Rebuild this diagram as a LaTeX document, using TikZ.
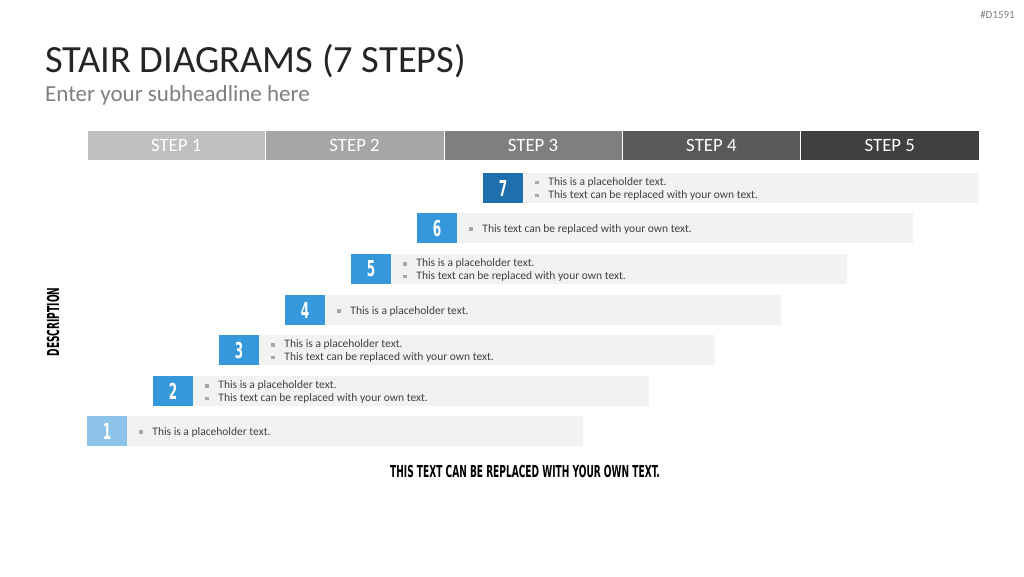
\documentclass[tikz,border=0pt]{standalone}
\usepackage{fontspec}
\setmainfont{Carlito}
\newfontfamily\condfont{DejaVu Sans Condensed}[FakeStretch=0.61]
\usetikzlibrary{positioning}

\definecolor{stepa}{HTML}{BFBFBF}
\definecolor{stepb}{HTML}{A6A6A6}
\definecolor{stepc}{HTML}{7F7F7F}
\definecolor{stepd}{HTML}{595959}
\definecolor{stepe}{HTML}{404040}
\definecolor{numlight}{HTML}{8DC3EB}
\definecolor{nummid}{HTML}{3498DB}
\definecolor{numdark}{HTML}{1F6FAD}
\definecolor{barfill}{HTML}{F2F2F2}
\definecolor{textgray}{HTML}{404040}
\definecolor{bulgray}{HTML}{A6A6A6}

\newcommand{\bul}{{\color{bulgray}\rule[0.25ex]{3.5pt}{3.5pt}}\hspace{9.5pt}}

\begin{document}
\begin{tikzpicture}[
	x=1pt, y=-1pt,
	hd/.style = {rectangle, draw=white, line width=0.6pt, minimum width=178.4pt, minimum height=30pt, inner sep=0pt, text=white, font=\fontsize{18.8}{18.8}\selectfont},
	num/.style = {rectangle, fill=nummid, minimum width=40pt, minimum height=30pt, inner sep=0pt, text=white, font=\condfont\bfseries\fontsize{22}{22}\selectfont},
	bar/.style = {rectangle, fill=barfill, minimum width=456pt, minimum height=30pt, inner sep=0pt, anchor=west},
	txt/.style = {anchor=west, inner sep=0pt, yshift=-1.2pt, align=left, text=textgray, font=\fontsize{11.5}{12.8}\selectfont}
	]
	
	\useasboundingbox[fill=white] (0,0) rectangle (1024,576);
	
	%Heading
	\node[anchor=base west, inner sep=0pt, text=black!85, font=\fontsize{38.5}{38.5}\selectfont]	(title)	at	(45, 72)	{STAIR DIAGRAMS (7 STEPS)};
	\node[anchor=base west, inner sep=0pt, text=black!50, font=\fontsize{23}{23}\selectfont]	(sub)	at	(45, 101)	{Enter your subheadline here};
	\node[anchor=base east, inner sep=0pt, text=black!50, font=\fontsize{11}{11}\selectfont]	(ref)	at	(1015, 18)	{\#D1591};
	
	%Steps
	\node[hd, fill=stepa]	(s1)	at	(176.2, 145)	{STEP 1};
	\node[hd, fill=stepb]	(s2)	at	(354.6, 145)	{STEP 2};
	\node[hd, fill=stepc]	(s3)	at	(533.0, 145)	{STEP 3};
	\node[hd, fill=stepd]	(s4)	at	(711.4, 145)	{STEP 4};
	\node[hd, fill=stepe]	(s5)	at	(889.8, 145)	{STEP 5};
	
	%Numbers
	\node[num, fill=numlight]	(n1)	at	(107, 431)	{1};
	\node[num]					(n2)	at	(173, 391)	{2};
	\node[num]					(n3)	at	(239, 350)	{3};
	\node[num]					(n4)	at	(305, 310)	{4};
	\node[num]					(n5)	at	(371, 269)	{5};
	\node[num]					(n6)	at	(437, 228)	{6};
	\node[num, fill=numdark]	(n7)	at	(503, 188)	{7};
	
	%Bars
	\node[bar]	(b1)	at	(n1.east)	{};
	\node[bar]	(b2)	at	(n2.east)	{};
	\node[bar]	(b3)	at	(n3.east)	{};
	\node[bar]	(b4)	at	(n4.east)	{};
	\node[bar]	(b5)	at	(n5.east)	{};
	\node[bar]	(b6)	at	(n6.east)	{};
	\node[bar]	(b7)	at	(n7.east)	{};
	
	%Texts
	\node[txt, right=12pt of b1.west]	(t1)	{\bul This is a placeholder text.};
	\node[txt, right=12pt of b2.west]	(t2)	{\bul This is a placeholder text.\\\bul This text can be replaced with your own text.};
	\node[txt, right=12pt of b3.west]	(t3)	{\bul This is a placeholder text.\\\bul This text can be replaced with your own text.};
	\node[txt, right=12pt of b4.west]	(t4)	{\bul This is a placeholder text.};
	\node[txt, right=12pt of b5.west]	(t5)	{\bul This is a placeholder text.\\\bul This text can be replaced with your own text.};
	\node[txt, right=12pt of b6.west]	(t6)	{\bul This text can be replaced with your own text.};
	\node[txt, right=12pt of b7.west]	(t7)	{\bul This is a placeholder text.\\\bul This text can be replaced with your own text.};
	
	%Labels
	\node[rotate=90, inner sep=0pt, font=\condfont\bfseries\fontsize{16.5}{16.5}\selectfont]	(desc)	at	(53, 322)	{DESCRIPTION};
	\node[inner sep=0pt, font=\condfont\bfseries\fontsize{16.5}{16.5}\selectfont]	(foot)	at	(525, 471)	{THIS TEXT CAN BE REPLACED WITH YOUR OWN TEXT.};
\end{tikzpicture}
\end{document}
